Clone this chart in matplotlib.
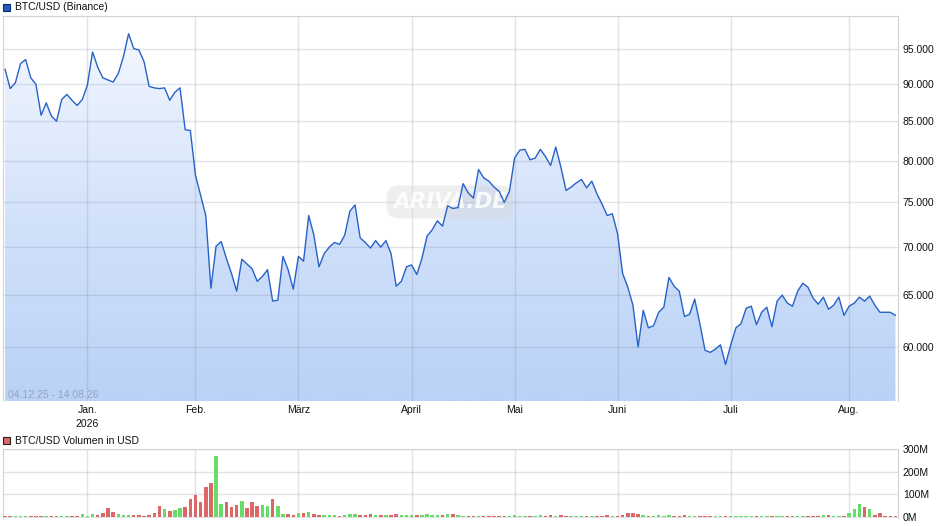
import numpy as np
import pandas as pd
import matplotlib
matplotlib.use('Agg')
import matplotlib.pyplot as plt
from matplotlib.ticker import FixedLocator, NullLocator
from matplotlib.patches import Rectangle

plt.rcParams['font.family'] = ['Liberation Sans', 'DejaVu Sans']

# trading days (Xetra calendar) 04.12.25 - 14.08.26
holidays = ['2025-12-24', '2025-12-25', '2025-12-26', '2025-12-31',
            '2026-01-01', '2026-04-03', '2026-04-06', '2026-05-01']
dates = pd.bdate_range('2025-12-04', '2026-08-14', freq='C', holidays=holidays)

# BTC/USD close
price = [
    92100, 89400, 90200, 92900, 93500, 90900, 90000, 85800, 87450, 85700,
    85000, 87900, 88600, 87800, 87100, 87900, 89900, 94600, 92400, 90900,
    90600, 90300, 91500, 93900, 97300, 95100, 94900, 93200, 89700, 89500,
    89400, 89500, 87800, 88900, 89500, 83900, 83800, 78200, 75800, 73500,
    65700, 70100, 70600, 68800, 67200, 65400, 68700, 68200, 67700, 66400,
    66900, 67600, 64400, 64500, 69000, 67600, 65600, 69000, 68500, 73500,
    71300, 67900, 69300, 70000, 70500, 70300, 71300, 74000, 74700, 71000,
    70500, 69900, 70700, 70000, 70700, 69300, 65900, 66400, 67900, 68100,
    67100, 68800, 71200, 71900, 72900, 72300, 74600, 74300, 74400, 77200,
    76100, 75500, 78900, 77900, 77500, 76800, 76300, 75000, 76300, 80300,
    81300, 81400, 80100, 80300, 81400, 80500, 79400, 81700, 79200, 76400,
    76800, 77300, 77700, 76700, 77500, 76000, 74800, 73500, 73700, 71500,
    67200, 65800, 64000, 60000, 63500, 61800, 62000, 63300, 63800, 66800,
    65900, 65400, 62900, 63100, 64600, 62200, 59700, 59500, 59800, 60200,
    58400, 60200, 61800, 62200, 63700, 63900, 62100, 63300, 63800, 61900,
    64400, 65000, 64200, 63900, 65400, 66200, 65800, 64700, 64100, 64800,
    63600, 64000, 64800, 63000, 63900, 64200, 64800, 64400, 64900, 64000,
    63300, 63300, 63300, 63000,
]

# volume in million USD
volume_m = [
    3, 3, 2, 2, 5, 3, 3, 3, 5, 2,
    5, 5, 3, 3, 5, 12, 3, 12, 7, 16,
    38, 20, 10, 7, 7, 7, 7, 3, 7, 16,
    47, 34, 25, 29, 38, 43, 78, 96, 65, 131,
    149, 268, 56, 65, 43, 51, 69, 38, 65, 47,
    51, 47, 78, 47, 12, 12, 7, 16, 16, 20,
    12, 7, 7, 7, 7, 3, 7, 12, 12, 7,
    7, 12, 7, 7, 7, 7, 12, 7, 7, 7,
    7, 7, 12, 7, 7, 7, 12, 12, 7, 5,
    5, 5, 5, 5, 5, 5, 5, 2, 5, 9,
    5, 5, 5, 5, 9, 5, 9, 5, 9, 2,
    2, 2, 2, 2, 2, 2, 5, 9, 5, 5,
    9, 18, 18, 14, 9, 5, 5, 9, 5, 9,
    5, 5, 9, 5, 5, 5, 5, 5, 5, 2,
    5, 5, 5, 2, 5, 5, 2, 2, 2, 2,
    2, 5, 5, 5, 5, 5, 2, 2, 2, 9,
    9, 5, 5, 5, 18, 36, 55, 45, 36, 9,
    18, 2, 5, 5,
]

month_labels = ['Jan.\n2026', 'Feb.', 'März', 'April', 'Mai', 'Juni', 'Juli', 'Aug.']
price_ticks = [60000, 65000, 70000, 75000, 80000, 85000, 90000, 95000]
volume_ticks = [0, 100, 200, 300]

x = np.arange(len(price))
month_pos = [i for i in range(1, len(dates)) if dates[i].month != dates[i - 1].month]

line_blue = '#2862c8'
grid_col = (0.45, 0.5, 0.6)
spine_col = '#d2d2d2'
W, H = 940, 526

fig = plt.figure(figsize=(W / 100, H / 100), dpi=100)
ax = fig.add_axes([3 / W, (H - 401) / H, 895 / W, 385 / H])
ax2 = fig.add_axes([3 / W, (H - 518) / H, 895 / W, 68.7 / H])

# price panel
y_low, y_high = 55200, 100000
ax.set_yscale('log')
ax.set_xlim(-0.4, 173.5)
ax.set_ylim(y_low, y_high)

grad = np.linspace(0, 1, 256)[:, None]
top = np.array([248, 250, 255]) / 255
bottom = np.array([186, 210, 247]) / 255
img = top + (bottom - top) * grad[..., None]
im = ax.imshow(img, extent=(-0.4, 173.5, y_low, y_high), origin='upper',
               aspect='auto', zorder=0, interpolation='bilinear')
poly = ax.fill_between(x, price, y_low, facecolor='none', edgecolor='none')
im.set_clip_path(poly.get_paths()[0], transform=ax.transData)
ax.set_xlim(-0.4, 173.5)
ax.set_ylim(y_low, y_high)

ax.plot(x, price, color=line_blue, lw=1.0, zorder=3)

ax.yaxis.tick_right()
ax.yaxis.set_major_locator(FixedLocator(price_ticks))
ax.yaxis.set_minor_locator(NullLocator())
ax.set_yticklabels([f'{v:,.0f}'.replace(',', '.') for v in price_ticks])
ax.set_xticks(month_pos)
ax.set_xticklabels(month_labels, linespacing=1.45)
ax.tick_params(length=0, labelsize=7.5, colors='#111111')
ax.tick_params(axis='y', pad=3.5)
ax.tick_params(axis='x', pad=3)
ax.grid(True, color=grid_col, alpha=0.21, lw=1)
for s in ['left', 'top', 'right']:
    ax.spines[s].set_color(spine_col)
ax.spines['bottom'].set_visible(False)

# watermark
ax.text(0.4994, 0.517, 'ARIVA.DE', transform=ax.transAxes, ha='center', va='center',
        family='DejaVu Sans', fontsize=15.5, fontstyle='italic', fontweight='bold',
        color='white', alpha=0.85, zorder=2,
        bbox=dict(boxstyle='round,pad=0.3,rounding_size=0.6',
                  facecolor='#d6d6d6', edgecolor='none', alpha=0.4))
fig.text(8 / W, 1 - 395 / H, '04.12.25 - 14.08.26', va='center', ha='left',
         fontsize=7.5, color='#97a4b9')

# legends
fig.add_artist(Rectangle((3 / W, 1 - 10.5 / H), 7 / W, 7 / H, transform=fig.transFigure,
                         facecolor='#1f5cc4', edgecolor='#0b2a66', lw=0.8))
fig.text(15 / W, 1 - 6.5 / H, 'BTC/USD (Binance)', va='center', fontsize=7.5, color='#111111')
fig.add_artist(Rectangle((3 / W, 1 - 444 / H), 7 / W, 7 / H, transform=fig.transFigure,
                         facecolor='#dd6666', edgecolor='#222222', lw=0.8))
fig.text(15 / W, 1 - 440.5 / H, 'BTC/USD Volumen in USD', va='center', fontsize=7.5,
         color='#111111')

# volume panel
colors = ['#dd6666'] + ['#66dd66' if price[i] > price[i - 1] else '#dd6666'
                        for i in range(1, len(price))]
ax2.bar(x, volume_m, width=0.68, color=colors, zorder=3)
ax2.set_xlim(-0.4, 173.5)
ax2.set_ylim(-6, 300)
ax2.yaxis.tick_right()
ax2.set_yticks(volume_ticks)
ax2.set_yticklabels([f'{v}M' for v in volume_ticks])
ax2.set_xticks(month_pos)
ax2.set_xticklabels([])
ax2.tick_params(length=0, labelsize=7.5, colors='#111111')
ax2.tick_params(axis='y', pad=3.5)
ax2.grid(True, color=grid_col, alpha=0.21, lw=1)
for s in ['left', 'top', 'right']:
    ax2.spines[s].set_color(spine_col)
ax2.spines['bottom'].set_visible(False)

fig.savefig('out.png', dpi=100)
